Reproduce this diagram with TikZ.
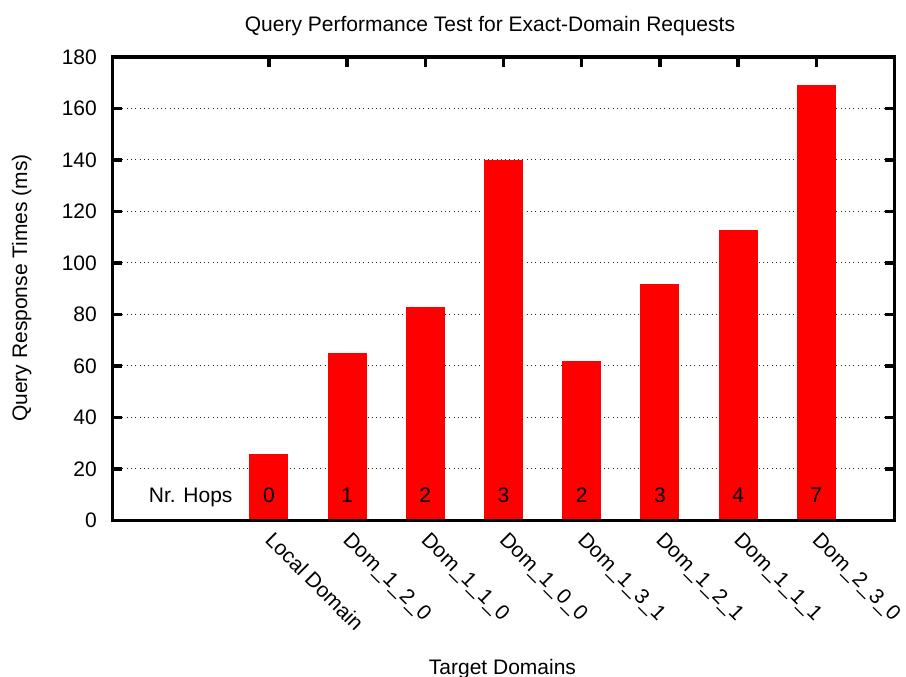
\documentclass[tikz,border=0pt]{standalone}
\usepackage{fontspec}
\setmainfont{Liberation Sans}

\begin{document}
\begin{tikzpicture}[x=78.2pt, y=2.575pt, font=\fontsize{21}{25}\selectfont]
			%%%%% START %%%%%
			\useasboundingbox (-3.4386, -60.777) rectangle (8.1471, 202.136);
			
			\draw[line width=1pt, color=black!85, dash pattern=on 1pt off 3.3pt] ([xshift=10pt]-2, 20) -- ([xshift=-10pt]8, 20);
			\draw[line width=1pt, color=black!85, dash pattern=on 1pt off 3.3pt] ([xshift=10pt]-2, 40) -- ([xshift=-10pt]8, 40);
			\draw[line width=1pt, color=black!85, dash pattern=on 1pt off 3.3pt] ([xshift=10pt]-2, 60) -- ([xshift=-10pt]8, 60);
			\draw[line width=1pt, color=black!85, dash pattern=on 1pt off 3.3pt] ([xshift=10pt]-2, 80) -- ([xshift=-10pt]8, 80);
			\draw[line width=1pt, color=black!85, dash pattern=on 1pt off 3.3pt] ([xshift=10pt]-2, 100) -- ([xshift=-10pt]8, 100);
			\draw[line width=1pt, color=black!85, dash pattern=on 1pt off 3.3pt] ([xshift=10pt]-2, 120) -- ([xshift=-10pt]8, 120);
			\draw[line width=1pt, color=black!85, dash pattern=on 1pt off 3.3pt] ([xshift=10pt]-2, 140) -- ([xshift=-10pt]8, 140);
			\draw[line width=1pt, color=black!85, dash pattern=on 1pt off 3.3pt] ([xshift=10pt]-2, 160) -- ([xshift=-10pt]8, 160);
			
			\fill[red] (-0.25, 0) rectangle (0.25, 26);
			\fill[red] (0.75, 0) rectangle (1.25, 65);
			\fill[red] (1.75, 0) rectangle (2.25, 83);
			\fill[red] (2.75, 0) rectangle (3.25, 140);
			\fill[red] (3.75, 0) rectangle (4.25, 62);
			\fill[red] (4.75, 0) rectangle (5.25, 92);
			\fill[red] (5.75, 0) rectangle (6.25, 113);
			\fill[red] (6.75, 0) rectangle (7.25, 169);
			
			\node[anchor=base, inner sep=0] (hops) at (-1, 6.8) {Nr. Hops};
			\node[anchor=base, inner sep=0] (h0) at (0, 6.8) {0};
			\node[anchor=base, inner sep=0] (h1) at (1, 6.8) {1};
			\node[anchor=base, inner sep=0] (h2) at (2, 6.8) {2};
			\node[anchor=base, inner sep=0] (h3) at (3, 6.8) {3};
			\node[anchor=base, inner sep=0] (h4) at (4, 6.8) {2};
			\node[anchor=base, inner sep=0] (h5) at (5, 6.8) {3};
			\node[anchor=base, inner sep=0] (h6) at (6, 6.8) {4};
			\node[anchor=base, inner sep=0] (h7) at (7, 6.8) {7};
			
			\draw[line width=3.5pt] (-2, 0) rectangle (8, 180);
			
			\draw[line width=3.5pt] (-2, 20) -- ++(10pt, 0);
			\draw[line width=3.5pt] (-2, 40) -- ++(10pt, 0);
			\draw[line width=3.5pt] (-2, 60) -- ++(10pt, 0);
			\draw[line width=3.5pt] (-2, 80) -- ++(10pt, 0);
			\draw[line width=3.5pt] (-2, 100) -- ++(10pt, 0);
			\draw[line width=3.5pt] (-2, 120) -- ++(10pt, 0);
			\draw[line width=3.5pt] (-2, 140) -- ++(10pt, 0);
			\draw[line width=3.5pt] (-2, 160) -- ++(10pt, 0);
			\draw[line width=3.5pt] (8, 20) -- ++(-10pt, 0);
			\draw[line width=3.5pt] (8, 40) -- ++(-10pt, 0);
			\draw[line width=3.5pt] (8, 60) -- ++(-10pt, 0);
			\draw[line width=3.5pt] (8, 80) -- ++(-10pt, 0);
			\draw[line width=3.5pt] (8, 100) -- ++(-10pt, 0);
			\draw[line width=3.5pt] (8, 120) -- ++(-10pt, 0);
			\draw[line width=3.5pt] (8, 140) -- ++(-10pt, 0);
			\draw[line width=3.5pt] (8, 160) -- ++(-10pt, 0);
			\draw[line width=3.5pt] (0, 180) -- ++(0, -10pt);
			\draw[line width=3.5pt] (1, 180) -- ++(0, -10pt);
			\draw[line width=3.5pt] (2, 180) -- ++(0, -10pt);
			\draw[line width=3.5pt] (3, 180) -- ++(0, -10pt);
			\draw[line width=3.5pt] (4, 180) -- ++(0, -10pt);
			\draw[line width=3.5pt] (5, 180) -- ++(0, -10pt);
			\draw[line width=3.5pt] (6, 180) -- ++(0, -10pt);
			\draw[line width=3.5pt] (7, 180) -- ++(0, -10pt);
			
			\node[anchor=east, inner sep=0] (y0) at ([xshift=-15.5pt]-2, 0) {0};
			\node[anchor=east, inner sep=0] (y20) at ([xshift=-15.5pt]-2, 20) {20};
			\node[anchor=east, inner sep=0] (y40) at ([xshift=-15.5pt]-2, 40) {40};
			\node[anchor=east, inner sep=0] (y60) at ([xshift=-15.5pt]-2, 60) {60};
			\node[anchor=east, inner sep=0] (y80) at ([xshift=-15.5pt]-2, 80) {80};
			\node[anchor=east, inner sep=0] (y100) at ([xshift=-15.5pt]-2, 100) {100};
			\node[anchor=east, inner sep=0] (y120) at ([xshift=-15.5pt]-2, 120) {120};
			\node[anchor=east, inner sep=0] (y140) at ([xshift=-15.5pt]-2, 140) {140};
			\node[anchor=east, inner sep=0] (y160) at ([xshift=-15.5pt]-2, 160) {160};
			\node[anchor=east, inner sep=0] (y180) at ([xshift=-15.5pt]-2, 180) {180};
			
			\node[rotate=-45, anchor=base west, inner sep=0] (d0) at ([xshift=-5pt, yshift=-20.5pt]0, 0) {Local Domain};
			\node[rotate=-45, anchor=base west, inner sep=0] (d1) at ([xshift=-5pt, yshift=-20.5pt]1, 0) {Dom\_1\_2\_0};
			\node[rotate=-45, anchor=base west, inner sep=0] (d2) at ([xshift=-5pt, yshift=-20.5pt]2, 0) {Dom\_1\_1\_0};
			\node[rotate=-45, anchor=base west, inner sep=0] (d3) at ([xshift=-5pt, yshift=-20.5pt]3, 0) {Dom\_1\_0\_0};
			\node[rotate=-45, anchor=base west, inner sep=0] (d4) at ([xshift=-5pt, yshift=-20.5pt]4, 0) {Dom\_1\_3\_1};
			\node[rotate=-45, anchor=base west, inner sep=0] (d5) at ([xshift=-5pt, yshift=-20.5pt]5, 0) {Dom\_1\_2\_1};
			\node[rotate=-45, anchor=base west, inner sep=0] (d6) at ([xshift=-5pt, yshift=-20.5pt]6, 0) {Dom\_1\_1\_1};
			\node[rotate=-45, anchor=base west, inner sep=0] (d7) at ([xshift=-5pt, yshift=-20.5pt]7, 0) {Dom\_2\_3\_0};
			
			\node[anchor=base, inner sep=0] (title) at (2.827, 189.71) {Query Performance Test for Exact-Domain Requests};
			\node[anchor=base, inner sep=0] (xlab) at (2.987, -60.0) {Target Domains};
			\node[rotate=90, anchor=base, inner sep=0] (ylab) at (-3.093, 90.3) {Query Response Times (ms)};
			
			%%%%% END %%%%%
		\end{tikzpicture}
\end{document}
